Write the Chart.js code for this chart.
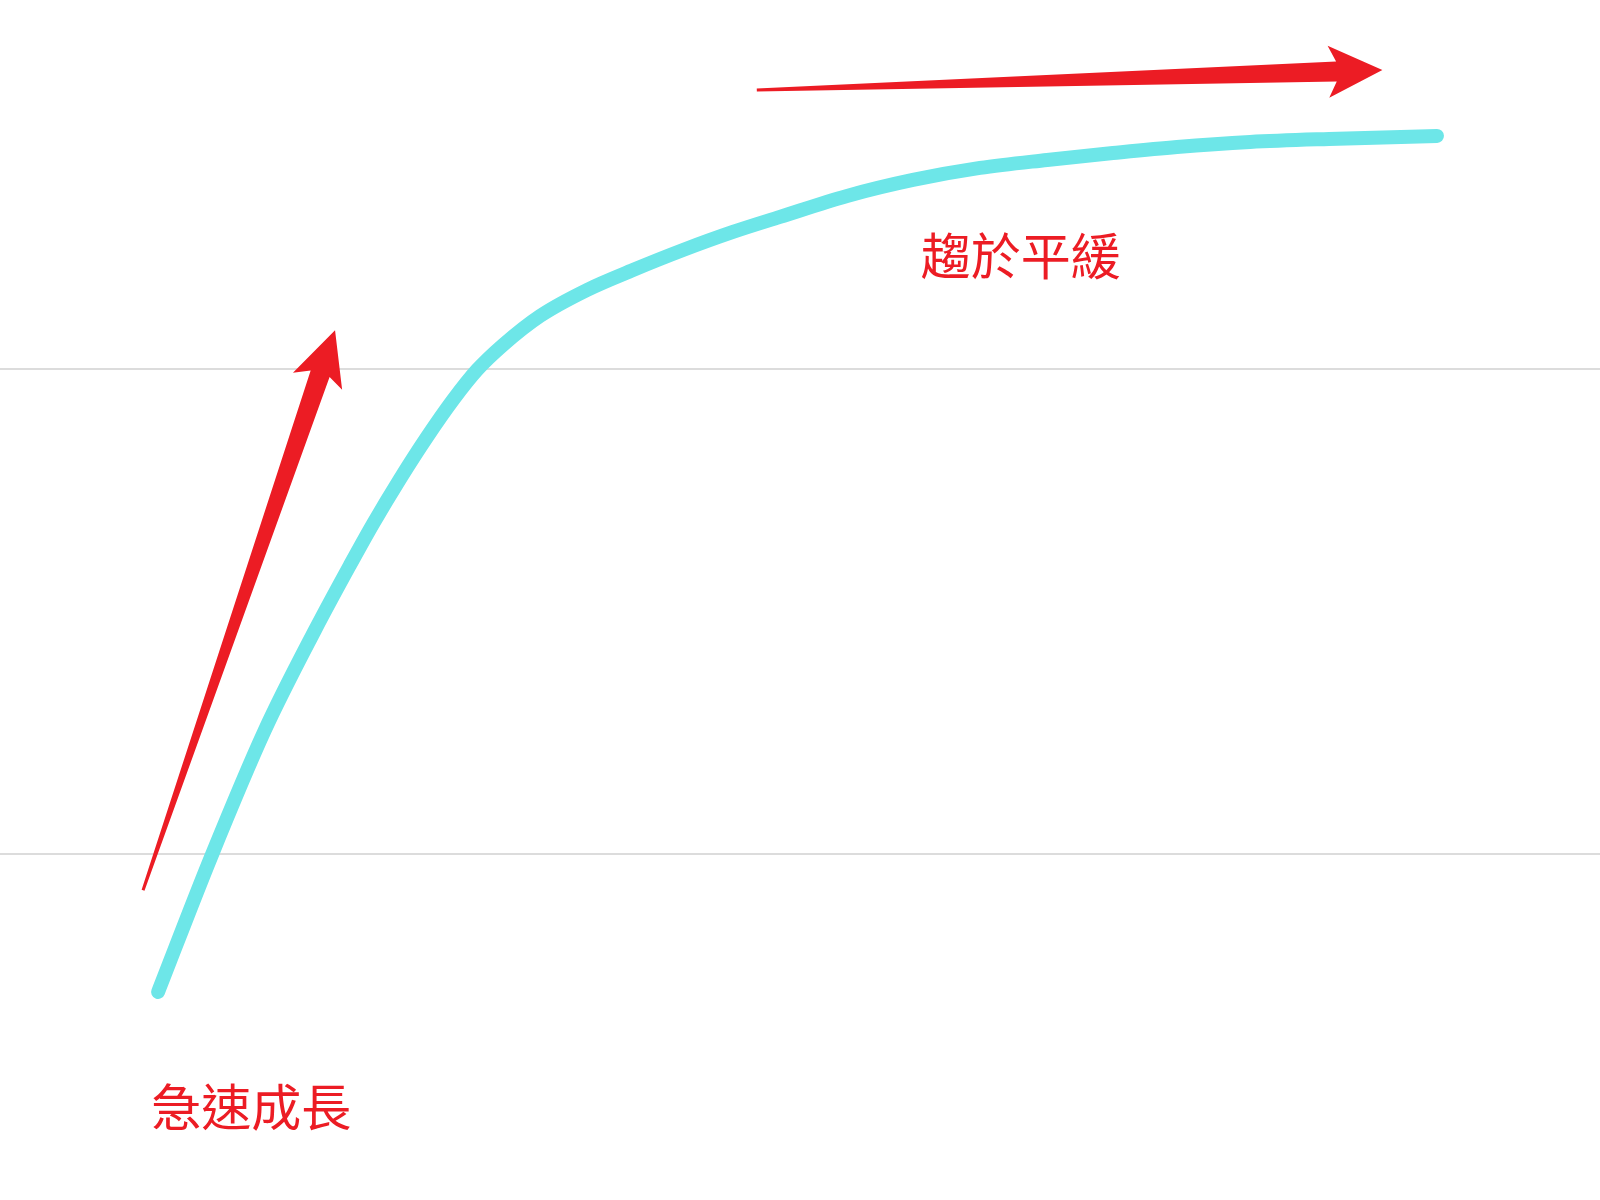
<!DOCTYPE html>
<html lang="zh-Hant">
<head>
<meta charset="UTF-8">
<title>急速成長 趨於平緩</title>
<script src="https://cdn.jsdelivr.net/npm/chart.js@4.4.1/dist/chart.umd.min.js"></script>
<style>
    html, body { margin: 0; padding: 0; background: #ffffff; }
    #wrap { width: 1600px; height: 1200px; position: relative; }
</style>
</head>
<body>
<div id="wrap"><canvas id="growthChart"></canvas></div>
<script>
// Datos de la curva (unidades del gráfico)
const timeValues = [9.88, 13.19, 16.56, 19.69, 21.88, 23.31, 25.0, 26.69, 28.31, 29.81, 31.44, 33.75,
    36.69, 39.56, 42.69, 45.81, 48.75, 52.94, 57.06, 61.25, 65.44, 69.56, 73.56, 78.13, 83.06, 89.81];
const growthValues = [28.62, 39.75, 50.23, 58.47, 63.84, 67.22, 70.93, 74.39, 77.44, 79.91, 81.98, 84.37,
    86.52, 88.16, 89.81, 91.30, 92.54, 94.27, 95.59, 96.58, 97.24, 97.81, 98.31, 98.72, 98.97, 99.22];

// Líneas de la cuadrícula
const gridValues = [40, 80];

// Flechas: [desde x, desde y, hasta x, hasta y]
const arrowFrom = [[8.94, 37.0], [47.3, 103.0]];
const arrowTo = [[20.94, 83.2], [86.4, 104.66]];

// Etiquetas
const labelTexts = ['急速成長', '趨於平緩'];
const labelAnchors = [[15.7, 19.1], [63.8, 89.3]];

const RED = '#ec1c24';
const CYAN = '#6de6e8';

class GrowthChart {
    constructor() {
        this.chart = null;
        this.init();
    }

    init() {
        const ctx = document.getElementById('growthChart');
        if (!ctx) return;

        this.chart = new Chart(ctx, {
            type: 'line',
            data: {
                datasets: [{
                    data: timeValues.map((x, i) => ({ x: x, y: growthValues[i] })),
                    borderColor: CYAN,
                    borderWidth: 14,
                    borderCapStyle: 'round',
                    borderJoinStyle: 'round',
                    cubicInterpolationMode: 'monotone',
                    pointRadius: 0,
                    fill: false
                }]
            },
            options: {
                responsive: true,
                maintainAspectRatio: false,
                animation: false,
                layout: { padding: 0 },
                plugins: {
                    legend: { display: false },
                    tooltip: { enabled: false }
                },
                scales: {
                    x: {
                        type: 'linear',
                        display: false,
                        min: 0,
                        max: 100
                    },
                    y: {
                        type: 'linear',
                        min: 11.46,
                        max: 110.43,
                        border: { display: false },
                        ticks: { display: false, stepSize: 40 },
                        grid: {
                            drawTicks: false,
                            lineWidth: 2,
                            color: (c) => gridValues.includes(c.tick && c.tick.value) ? '#dcdcdc' : 'rgba(0,0,0,0)'
                        }
                    }
                }
            },
            plugins: [this.annotationPlugin()]
        });
    }

    annotationPlugin() {
        const self = this;
        return {
            id: 'arrowsAndLabels',
            afterDatasetsDraw(chart) {
                const { ctx, scales } = chart;
                ctx.save();
                arrowFrom.forEach((from, i) => {
                    const to = arrowTo[i];
                    self.drawArrow(ctx,
                        scales.x.getPixelForValue(from[0]), scales.y.getPixelForValue(from[1]),
                        scales.x.getPixelForValue(to[0]), scales.y.getPixelForValue(to[1]));
                });

                ctx.fillStyle = RED;
                ctx.font = '50px "Noto Sans CJK TC", "Noto Sans CJK SC", sans-serif';
                ctx.textAlign = 'center';
                ctx.textBaseline = 'middle';
                labelTexts.forEach((txt, i) => {
                    const a = labelAnchors[i];
                    ctx.fillText(txt, scales.x.getPixelForValue(a[0]), scales.y.getPixelForValue(a[1]));
                });
                ctx.restore();
            }
        };
    }

    // Flecha afilada: cola fina, cuerpo que se ensancha y punta triangular
    drawArrow(ctx, x0, y0, x1, y1) {
        const dx = x1 - x0;
        const dy = y1 - y0;
        const len = Math.sqrt(dx * dx + dy * dy);
        const ux = dx / len;
        const uy = dy / len;
        const nx = -uy;
        const ny = ux;

        const headLen = 54;
        const headHalf = 26;
        const shaftHalf = 10;
        const tailHalf = 1.5;
        const barb = 8;

        const bx = x1 - ux * headLen;
        const by = y1 - uy * headLen;
        const jx = bx + ux * barb;
        const jy = by + uy * barb;

        ctx.beginPath();
        ctx.moveTo(x0 + nx * tailHalf, y0 + ny * tailHalf);
        ctx.lineTo(jx + nx * shaftHalf, jy + ny * shaftHalf);
        ctx.lineTo(bx + nx * headHalf, by + ny * headHalf);
        ctx.lineTo(x1, y1);
        ctx.lineTo(bx - nx * headHalf, by - ny * headHalf);
        ctx.lineTo(jx - nx * shaftHalf, jy - ny * shaftHalf);
        ctx.lineTo(x0 - nx * tailHalf, y0 - ny * tailHalf);
        ctx.closePath();
        ctx.fillStyle = RED;
        ctx.fill();
    }
}

document.addEventListener('DOMContentLoaded', () => {
    new GrowthChart();
});
</script>
</body>
</html>
